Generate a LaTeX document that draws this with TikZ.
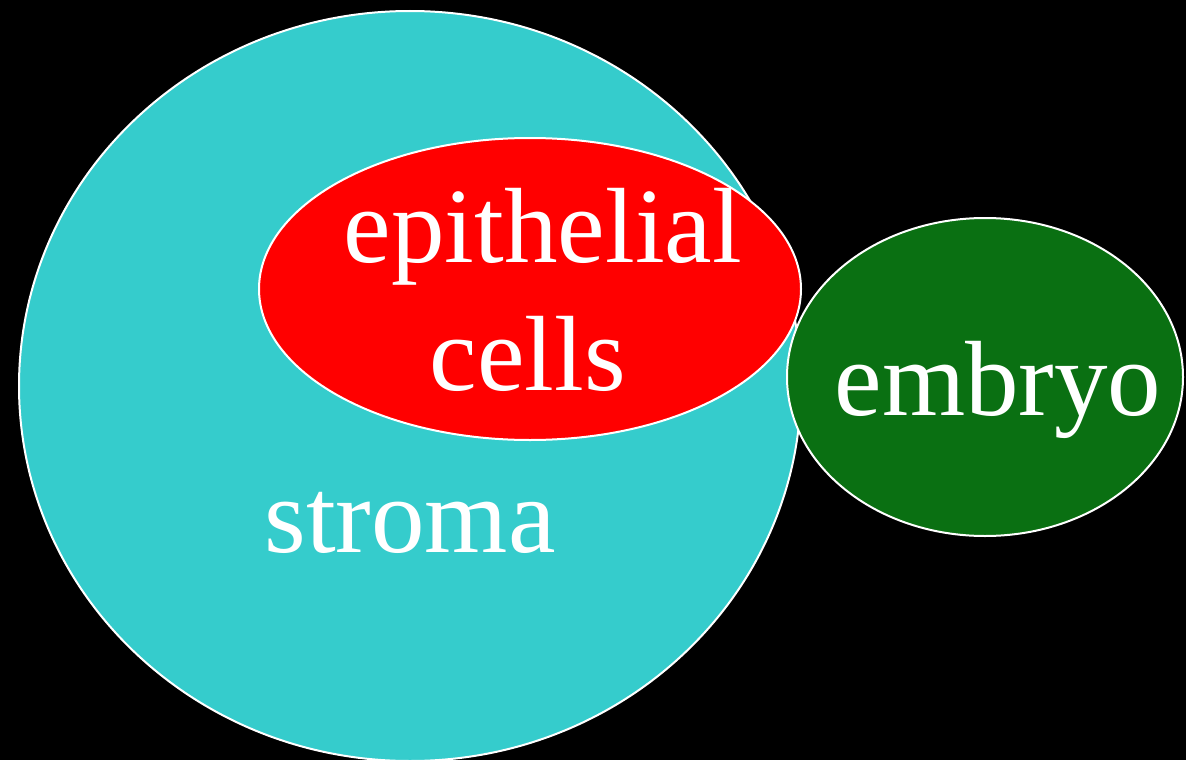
\documentclass[tikz,border=0pt]{standalone}
\usepackage{fontspec}
\setmainfont{Liberation Serif}
\usetikzlibrary{shapes.geometric}
\definecolor{StromaCyan}{RGB}{53, 204, 204}
\definecolor{EpiRed}{RGB}{255, 0, 0}
\definecolor{EmbryoGreen}{RGB}{10, 112, 18}
\tikzset{
  blob/.style={ellipse, draw=white, line width=2pt, fill=#1, inner sep=0pt},
  lbl/.style={text=white, anchor=base, inner sep=0pt,
              font=\fontsize{107}{110}\selectfont},
}
\begin{document}
\begin{tikzpicture}[x=1pt, y=-1pt]
  \fill[black] (0,0) rectangle (1186,760);
  \useasboundingbox (0,0) rectangle (1186,760);
  \clip (0,0) rectangle (1186,760);

  % regions
  \node[blob=StromaCyan, minimum width=782pt, minimum height=750pt] (stroma) at (410,386) {};
  \node[blob=EpiRed, minimum width=542pt, minimum height=302pt] (epith) at (530,289) {};
  \node[blob=EmbryoGreen, minimum width=396pt, minimum height=318pt] (embryo) at (985,377) {};

  % labels
  \node[lbl] (epithtxt) at (543,262) {epithelial};
  \node[lbl] (cellstxt) at (528,390) {cells};
  \node[lbl] (stromatxt) at (410,552) {stroma};
  \node[lbl] (embryotxt) at (998,415) {embryo};
\end{tikzpicture}
\end{document}
